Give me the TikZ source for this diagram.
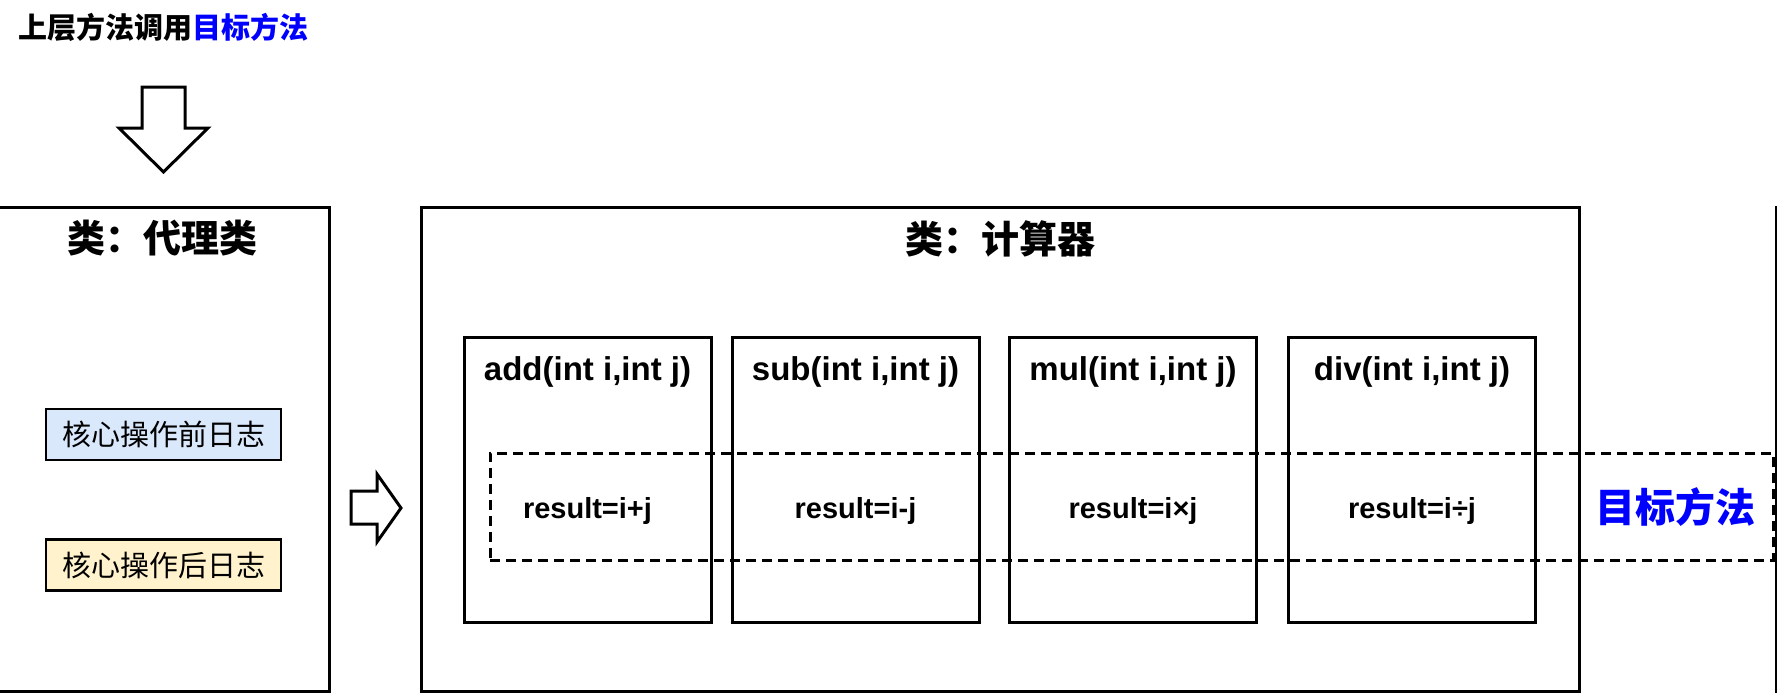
\documentclass[tikz,border=0pt]{standalone}
\usepackage{fontspec}
\setmainfont{Liberation Sans}
\newfontfamily\cjk{Noto Sans CJK SC}
\usetikzlibrary{positioning}
\definecolor{logblue}{HTML}{DAE8FC}
\definecolor{logyellow}{HTML}{FFF2CC}
\definecolor{targetblue}{RGB}{0,0,255}
\begin{document}
\begin{tikzpicture}[x=1pt, y=-1pt, line width=3pt]

	\tikzstyle{classbox}=[rectangle, draw=black, minimum height=484pt]
	\tikzstyle{classtitle}=[inner sep=0pt, font=\cjk\bfseries\fontsize{38}{45}\selectfont]
	\tikzstyle{logbox}=[rectangle, draw=black, line width=2.5pt, minimum width=235pt, minimum height=51pt, inner sep=0pt, font=\cjk\fontsize{29}{34}\selectfont]
	\tikzstyle{methodbox}=[rectangle, draw=black, minimum width=247pt, minimum height=285pt]
	\tikzstyle{methodname}=[inner sep=0pt, anchor=base, font=\bfseries\fontsize{33}{40}\selectfont]
	\tikzstyle{result}=[inner sep=0pt, anchor=base, font=\bfseries\fontsize{29}{34}\selectfont]
	\tikzstyle{blockarrow}=[draw=black, fill=white, line join=miter]

	\useasboundingbox (0,0) rectangle (1777,693);
	\clip (0,0) rectangle (1777,693);

	% caller
	\node[anchor=west, inner sep=0pt, font=\cjk\bfseries\fontsize{29}{35}\selectfont] (caller) at (17,27) {上层方法调用\textcolor{targetblue}{目标方法}};
	\draw[blockarrow] (142,87) -- (185,87) -- (185,128) -- (208,128) -- (163.5,172) -- (119,128) -- (142,128) -- cycle;

	% proxy class
	\node[classbox, minimum width=334pt] (proxy) at (162,449) {};
	\node[classtitle] (proxytitle) at ([yshift=-33pt]proxy.north) {类：代理类};
	\node[logbox, fill=logblue] (logpre) at (163.5,434.5) {核心操作前日志};
	\node[logbox, fill=logyellow] (logpost) at (163.5,565) {核心操作后日志};

	\draw[blockarrow] (351,491) -- (377,491) -- (377,474) -- (401,508) -- (377,542) -- (377,524) -- (351,524) -- cycle;

	% target class
	\node[classbox, minimum width=1158pt] (calc) at (1000,449) {};
	\node[classtitle] (calctitle) at ([yshift=-33pt]calc.north) {类：计算器};
	\node[classbox, minimum width=300pt, anchor=west] (nextclass) at (1775,449) {};

	\node[methodbox] (add) at (587.5,479.5) {};
	\node[methodbox] (sub) at (855.5,479.5) {};
	\node[methodbox] (mul) at (1133,479.5) {};
	\node[methodbox] (div) at (1412,479.5) {};

	\node[methodname] (addname) at ([yshift=-45pt]add.north) {add(int i,int j)};
	\node[methodname] (subname) at ([yshift=-45pt]sub.north) {sub(int i,int j)};
	\node[methodname] (mulname) at ([yshift=-45pt]mul.north) {mul(int i,int j)};
	\node[methodname] (divname) at ([yshift=-45pt]div.north) {div(int i,int j)};

	% target methods
	\node[rectangle, draw=black, dash pattern=on 10pt off 6pt, minimum width=1283pt, minimum height=107pt] (target) at (1131.5,506.5) {};
	\node[result] (addres) at ([yshift=-183pt]add.north) {result=i+j};
	\node[result] (subres) at ([yshift=-183pt]sub.north) {result=i-j};
	\node[result] (mulres) at ([yshift=-183pt]mul.north) {result=i×j};
	\node[result] (divres) at ([yshift=-183pt]div.north) {result=i÷j};
	\node[inner sep=0pt, text=targetblue, font=\cjk\bfseries\fontsize{40}{48}\selectfont] (targetlabel) at (1675.5,507) {目标方法};

\end{tikzpicture}
\end{document}
